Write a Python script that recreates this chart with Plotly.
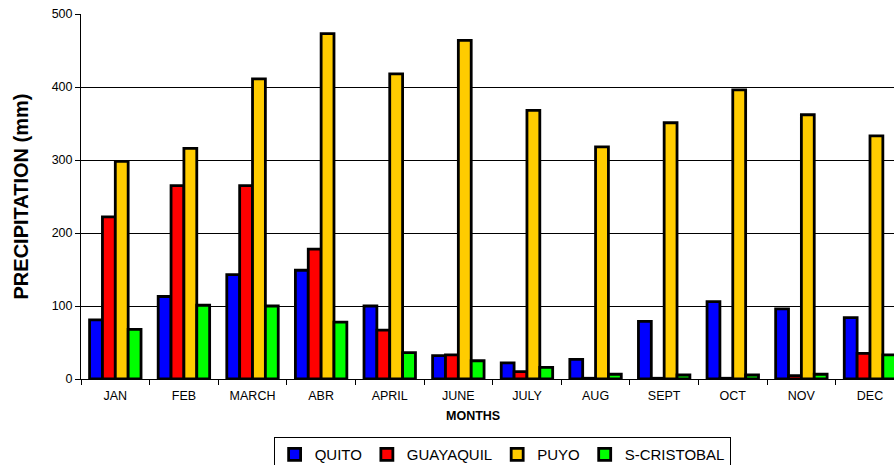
import plotly.graph_objects as go

months = ["JAN", "FEB", "MARCH", "ABR", "APRIL", "JUNE", "JULY", "AUG", "SEPT", "OCT", "NOV", "DEC"]
quito = [81, 113, 143, 149, 100, 32, 22, 27, 79, 106, 96, 84]
guayaquil = [222, 265, 265, 178, 67, 33, 10, 1, 1, 1, 4.5, 35]
puyo = [298, 316, 411, 473, 418, 464, 368, 318, 351, 396, 362, 333]
s_cristobal = [68, 101, 100, 78, 36, 25, 16, 6.5, 5.5, 5.5, 6.5, 33]

series = [
    ("QUITO", quito, "#0000FF"),
    ("GUAYAQUIL", guayaquil, "#FF0000"),
    ("PUYO", puyo, "#FFCC00"),
    ("S-CRISTOBAL", s_cristobal, "#00FF00"),
]

fig = go.Figure()
for name, vals, col in series:
    fig.add_trace(go.Bar(
        x=months, y=vals, name=name,
        marker=dict(color=col, line=dict(color="black", width=2.8)),
    ))

font = "Liberation Sans, Arial, sans-serif"
fig.update_layout(
    width=894, height=465,
    margin=dict(l=81, r=0, t=14, b=86, autoexpand=False),
    paper_bgcolor="white", plot_bgcolor="white",
    barmode="group", bargap=0.25, bargroupgap=0,
    font=dict(family=font, color="black", size=12),
    showlegend=True,
    legend=dict(
        orientation="h", x=0.518, xanchor="center",
        yref="container", y=0.06, yanchor="top",
        bordercolor="black", borderwidth=1, bgcolor="white",
        font=dict(family=font, size=15, color="black"),
        itemwidth=30, tracegroupgap=0,
    ),
    xaxis=dict(
        type="category", range=[-0.5, 11.35], automargin=False,
        showline=True, linecolor="black", linewidth=1,
        ticks="outside", tickson="boundaries", ticklen=5, tickcolor="black",
        ticklabelstandoff=5,
        tickfont=dict(size=12.5, family=font), showgrid=False,
    ),
    yaxis=dict(
        range=[0, 500], dtick=100, tick0=0, automargin=False,
        showline=True, linecolor="black", linewidth=1,
        ticks="outside", ticklen=5, tickcolor="black",
        showgrid=True, gridcolor="black", gridwidth=1,
        zeroline=False, ticklabeloverflow="allow",
        tickfont=dict(size=12.5, family=font),
        title=dict(text="<b>PRECIPITATION (mm)</b>", font=dict(size=20, family=font), standoff=17),
    ),
    annotations=[dict(
        text="<b>MONTHS</b>", x=0.482, y=-0.101, xref="paper", yref="paper",
        xanchor="center", yanchor="middle", showarrow=False,
        font=dict(size=12.5, family=font, color="black"),
    )],
)

fig.write_html(
    "out.html",
    config={"displayModeBar": False},
    post_script="document.body.style.margin='0';document.body.style.overflow='hidden';",
)
